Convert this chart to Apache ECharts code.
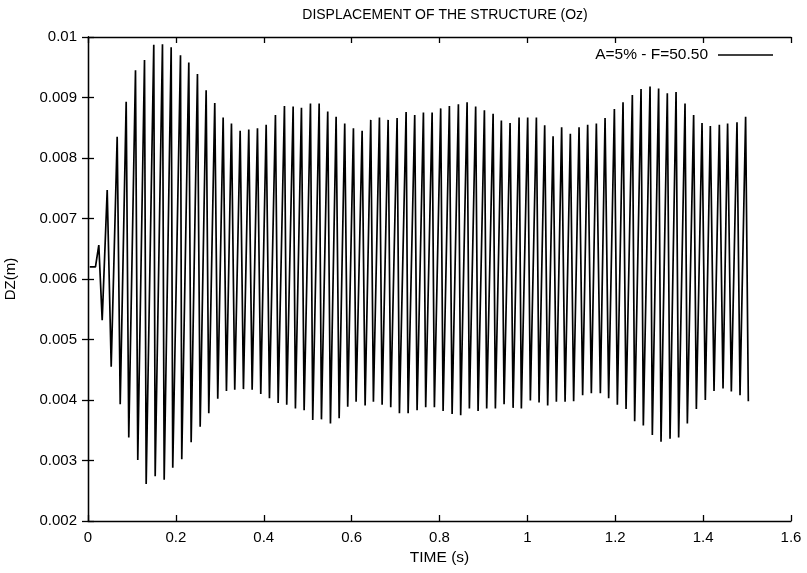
<!DOCTYPE html>
<html>
<head>
<meta charset="utf-8">
<script src="https://cdn.jsdelivr.net/npm/echarts@6/dist/echarts.min.js"></script>
<style>
  html, body { margin: 0; padding: 0; background: #fff; }
  #chart { width: 807px; height: 573px; }
</style>
</head>
<body>
<div id="chart"></div>
<script>
// Vertical displacement DZ (m) of the structure versus time (s), A=5%, F=50.50 Hz

// start-up transient before the regular oscillation
const startTime = [0.004, 0.017, 0.0246, 0.0323, 0.0437];
const startVal  = [0.0062, 0.0062, 0.00656, 0.00532, 0.00747];

// successive maxima of the response
const peakTime = [
  0.0664, 0.0869, 0.1081, 0.1286, 0.1497, 0.1695, 0.1893, 0.2105, 0.2294, 0.2491,
  0.2689, 0.2885, 0.3076, 0.3265, 0.3463, 0.3659, 0.3857, 0.4055, 0.4266, 0.4471,
  0.4669, 0.4858, 0.5063, 0.5261, 0.5456, 0.5647, 0.5843, 0.6041, 0.6239, 0.6435,
  0.6633, 0.6831, 0.7035, 0.7240, 0.7436, 0.7634, 0.7832, 0.8027, 0.8225, 0.8430,
  0.8628, 0.8823, 0.9022, 0.9220, 0.9408, 0.9606, 0.9811, 1.0007, 1.0205, 1.0394,
  1.0585, 1.0780, 1.0978, 1.1176, 1.1372, 1.1570, 1.1768, 1.1980, 1.2177, 1.2389,
  1.2587, 1.2792, 1.2987, 1.3185, 1.3384, 1.3588, 1.3784, 1.3975, 1.4164, 1.4369,
  1.4557, 1.4771, 1.4967
];
const peakVal = [
  0.00835, 0.00893, 0.00945, 0.00962, 0.00987, 0.00988, 0.00983, 0.00970, 0.00958, 0.00939,
  0.00912, 0.00891, 0.00867, 0.00857, 0.00845, 0.00847, 0.00849, 0.00855, 0.00871, 0.00886,
  0.00885, 0.00883, 0.00890, 0.00890, 0.00877, 0.00868, 0.00857, 0.00849, 0.00845, 0.00863,
  0.00867, 0.00863, 0.00866, 0.00876, 0.00871, 0.00875, 0.00875, 0.00882, 0.00886, 0.00889,
  0.00892, 0.00885, 0.00879, 0.00873, 0.00862, 0.00858, 0.00867, 0.00867, 0.00867, 0.00854,
  0.00836, 0.00851, 0.00840, 0.00851, 0.00855, 0.00857, 0.00866, 0.00881, 0.00892, 0.00904,
  0.00914, 0.00918, 0.00915, 0.00907, 0.00909, 0.00890, 0.00871, 0.00858, 0.00853, 0.00855,
  0.00857, 0.00859, 0.00868
];

// successive minima of the response
const troughTime = [
  0.0528, 0.0733, 0.0928, 0.1133, 0.1324, 0.1529, 0.1734, 0.1929, 0.2134, 0.2348,
  0.2553, 0.2749, 0.2953, 0.3151, 0.3340, 0.3538, 0.3736, 0.3932, 0.4130, 0.4328,
  0.4523, 0.4721, 0.4919, 0.5115, 0.5313, 0.5518, 0.5716, 0.5911, 0.6102, 0.6307,
  0.6496, 0.6694, 0.6890, 0.7088, 0.7286, 0.7490, 0.7686, 0.7884, 0.8082, 0.8287,
  0.8482, 0.8680, 0.8878, 0.9074, 0.9272, 0.9470, 0.9675, 0.9863, 1.0068, 1.0266,
  1.0462, 1.0660, 1.0858, 1.1053, 1.1258, 1.1456, 1.1661, 1.1850, 1.2048, 1.2246,
  1.2442, 1.2639, 1.2844, 1.3042, 1.3247, 1.3443, 1.3641, 1.3846, 1.4050, 1.4248,
  1.4453, 1.4642, 1.4840, 1.5029
];
const troughVal = [
  0.00455, 0.00393, 0.00338, 0.00301, 0.00261, 0.00274, 0.00268, 0.00288, 0.00302, 0.00330,
  0.00356, 0.00378, 0.00402, 0.00415, 0.00417, 0.00418, 0.00417, 0.00410, 0.00403, 0.00395,
  0.00392, 0.00386, 0.00383, 0.00367, 0.00368, 0.00361, 0.00370, 0.00389, 0.00397, 0.00391,
  0.00397, 0.00392, 0.00388, 0.00378, 0.00378, 0.00383, 0.00388, 0.00388, 0.00382, 0.00377,
  0.00375, 0.00386, 0.00382, 0.00386, 0.00386, 0.00393, 0.00387, 0.00386, 0.00399, 0.00396,
  0.00391, 0.00397, 0.00397, 0.00398, 0.00408, 0.00411, 0.00411, 0.00403, 0.00392, 0.00385,
  0.00365, 0.00358, 0.00342, 0.00331, 0.00336, 0.00338, 0.00361, 0.00385, 0.00400, 0.00415,
  0.00419, 0.00414, 0.00408, 0.00398
];

const xTicks = [0, 0.2, 0.4, 0.6, 0.8, 1, 1.2, 1.4, 1.6];
const yTicks = [0.002, 0.003, 0.004, 0.005, 0.006, 0.007, 0.008, 0.009, 0.01];

const titleText = 'DISPLACEMENT OF THE STRUCTURE (Oz)';
const xName = 'TIME (s)';
const yName = 'DZ(m)';
const seriesName = 'A=5% - F=50.50';

// merge all extrema into one time-ordered trace
const points = [];
startTime.forEach((t, i) => points.push([t, startVal[i]]));
peakTime.forEach((t, i) => points.push([t, peakVal[i]]));
troughTime.forEach((t, i) => points.push([t, troughVal[i]]));
points.sort((a, b) => a[0] - b[0]);

const FONT = "'Liberation Sans', Arial, Helvetica, sans-serif";
const axisLineStyle = { color: '#000', width: 1.3 };

const chart = echarts.init(document.getElementById('chart'), null, { renderer: 'canvas' });
chart.setOption({
  animation: false,
  backgroundColor: '#fff',
  title: {
    text: titleText,
    left: 440, top: 3, textAlign: 'center',
    textStyle: { fontFamily: FONT, fontSize: 14, fontWeight: 'normal', color: '#000' }
  },
  legend: {
    data: [seriesName],
    right: 29, top: 42,
    align: 'right',
    icon: 'rect',
    itemWidth: 55, itemHeight: 1.3, itemGap: 0,
    textStyle: { fontFamily: FONT, fontSize: 15.5, color: '#000', padding: [0, 5, 0, 0] }
  },
  grid: { left: 88, right: 16, top: 37, bottom: 52, outerBoundsMode: 'none', containLabel: false },
  xAxis: [
    {
      type: 'value', position: 'bottom',
      min: xTicks[0], max: xTicks[xTicks.length - 1], interval: 0.2,
      name: xName, nameLocation: 'middle', nameGap: 29,
      nameTextStyle: { fontFamily: FONT, fontSize: 15.5, color: '#000' },
      axisLine: { show: true, lineStyle: axisLineStyle },
      axisTick: { show: true, inside: true, length: 6, lineStyle: axisLineStyle },
      axisLabel: { fontFamily: FONT, fontSize: 15, color: '#000', margin: 9 },
      splitLine: { show: false }
    },
    {
      type: 'value', position: 'top',
      min: xTicks[0], max: xTicks[xTicks.length - 1], interval: 0.2,
      axisLine: { show: true, lineStyle: axisLineStyle },
      axisTick: { show: true, inside: true, length: 6, lineStyle: axisLineStyle },
      axisLabel: { show: false },
      splitLine: { show: false }
    }
  ],
  yAxis: [
    {
      type: 'value', position: 'left',
      min: yTicks[0], max: yTicks[yTicks.length - 1], interval: 0.001,
      name: yName, nameLocation: 'middle', nameGap: 70, nameRotate: 90,
      nameTextStyle: { fontFamily: FONT, fontSize: 15, color: '#000' },
      axisLine: { show: true, lineStyle: axisLineStyle },
      axisTick: { show: true, inside: true, length: 6, lineStyle: axisLineStyle },
      axisLabel: { fontFamily: FONT, fontSize: 15, color: '#000', margin: 11 },
      splitLine: { show: false }
    },
    {
      type: 'value', position: 'right',
      min: yTicks[0], max: yTicks[yTicks.length - 1], interval: 0.001,
      axisLine: { show: true, lineStyle: axisLineStyle },
      axisTick: { show: true, inside: true, length: 6, lineStyle: axisLineStyle },
      axisLabel: { show: false },
      splitLine: { show: false }
    }
  ],
  series: [
    {
      name: seriesName,
      type: 'line',
      xAxisIndex: 0, yAxisIndex: 0,
      data: points,
      showSymbol: false,
      symbol: 'none',
      lineStyle: { color: '#000', width: 1.7 },
      itemStyle: { color: '#000' }
    }
  ]
});
</script>
</body>
</html>
